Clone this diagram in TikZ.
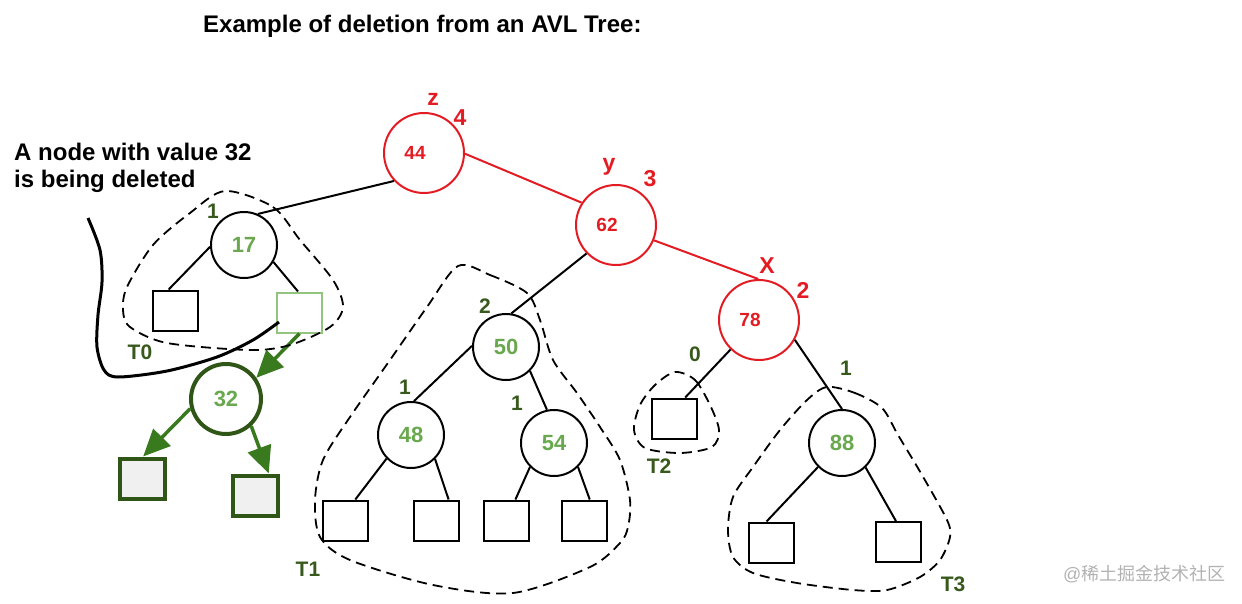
\documentclass[tikz,border=0pt]{standalone}
\usepackage{fontspec}
\setmainfont{Liberation Sans}
\newfontfamily\cjkfont{Noto Sans CJK SC}
\usetikzlibrary{arrows.meta}
\definecolor{avlred}{HTML}{E31B23}
\definecolor{tagreen}{HTML}{38591C}
\definecolor{numgreen}{HTML}{6AA84F}
\definecolor{argreen}{HTML}{3A7A1E}
\definecolor{delgreen}{HTML}{2F5517}
\definecolor{pale}{HTML}{93C47D}
\begin{document}
\begin{tikzpicture}[x=1pt,y=-1pt,
	every node/.style={inner sep=0,font=\bfseries},
	keynode/.style={circle,draw,line width=2pt,minimum size=66pt,text=numgreen,font=\fontsize{22}{22}\bfseries},
	rednode/.style={circle,draw=avlred,line width=2pt,minimum size=80pt,text=avlred,font=\fontsize{19}{19}\bfseries},
	delnode/.style={circle,draw=delgreen,line width=4pt,minimum size=70pt,text=numgreen,font=\fontsize{22}{22}\bfseries},
	leaf/.style={rectangle,draw,line width=2pt,minimum width=45pt,minimum height=40pt},
	delleaf/.style={leaf,draw=delgreen,line width=4pt,fill=black!6},
	redtag/.style={anchor=base,text=avlred,font=\fontsize{23}{23}\bfseries},
	tag/.style={anchor=base,text=tagreen,font=\fontsize{21}{21}\bfseries},
	edge/.style={line width=2pt},
	rededge/.style={edge,avlred},
	delarrow/.style={argreen,line width=3.5pt,-{Triangle[length=27pt,width=24pt]}},
	subtree/.style={line width=1.8pt,dash pattern=on 10pt off 6pt}]
\useasboundingbox (0,0) rectangle (1242,603);
\node[anchor=base west,font=\fontsize{24}{24}\bfseries] (title) at (203,32) {Example of deletion from an AVL Tree:};
\node[anchor=base west,align=left,font=\fontsize{24}{27}\bfseries] (note) at (14,187) {A node with value 32\\is being deleted};
\node[rednode] (n44) at (424,153) {\kern-18pt 44};
\node[rednode] (n62) at (616,225) {\kern-18pt 62};
\node[rednode] (n78) at (759,320) {\kern-18pt 78};
\node[keynode] (n17) at (244,245) {17};
\node[keynode] (n50) at (506,347) {50};
\node[keynode] (n48) at (411,435) {48};
\node[keynode] (n54) at (554,443) {54};
\node[keynode] (n88) at (842,443) {88};
\node[delnode] (n32) at (226,399) {32};
\node[leaf] (a1) at (175.5,310.5) {};
\node[leaf,draw=pale] (a2) at (299.5,312.5) {};
\node[delleaf] (d1) at (142,478.5) {};
\node[delleaf] (d2) at (255.5,495.5) {};
\node[leaf] (b1) at (345.5,520.5) {};
\node[leaf] (b2) at (436,520.5) {};
\node[leaf] (b3) at (506.5,520.5) {};
\node[leaf] (b4) at (584.5,520.5) {};
\node[leaf] (c1) at (674.5,418.5) {};
\node[leaf] (e1) at (771,542.5) {};
\node[leaf] (e2) at (898.5,542) {};
\draw[edge] (n44.223) -- (n17.66);
\draw[rededge] (n44.-1) -- (n62.147);
\draw[rededge] (n62.-22) -- (n78.91);
\draw[edge] (n62.224) -- (n50.81);
\draw[edge] (n50.178) -- (n48.85);
\draw[edge] (n50.-45) -- (n54.102);
\draw[edge] (n48.224) -- (b1.65);
\draw[edge] (n48.-45) -- (b2.59);
\draw[edge] (n54.225) -- (b3.67);
\draw[edge] (n54.-45) -- (b4.76);
\draw[edge] (n78.226) -- (c1.63);
\draw[edge] (n78.-29) -- (n88.90);
\draw[edge] (n88.225) -- (e1.102);
\draw[edge] (n88.-46) -- (e2.97);
\draw[edge] (n17.183) -- (a1.108);
\draw[edge] (n17.-30) -- (a2.94);
\draw[delarrow] (a2.south) -- (n32.35);
\draw[delarrow] (n32.195) -- (d1.87);
\draw[delarrow] (n32.-47) -- (d2.59);
\draw[line width=3pt] plot[smooth] coordinates {(88,218) (100,250) (102,282) (98,315) (97,347) (104,370) (118,377) (167,371) (217,357) (253,340) (279,322)};
\draw[subtree] plot[smooth cycle] coordinates {(225,191) (273,207) (300,240) (333,280) (343,307) (330,327) (290,345) (250,350) (167,343) (130,327) (123,310) (127,287) (153,245) (190,213)};
\draw[subtree] plot[smooth cycle] coordinates {(458,266) (490,275) (527,293) (540,320) (553,360) (577,393) (600,427) (620,460) (630,500) (628,527) (620,543) (590,567) (513,593) (433,585) (350,560) (320,537) (315,500) (323,460) (350,417) (390,360) (427,307)};
\draw[subtree] plot[smooth cycle] coordinates {(675,372) (695,380) (710,405) (719,430) (712,447) (680,453) (645,448) (634,430) (640,405) (655,385)};
\draw[subtree] plot[smooth cycle] coordinates {(827,387) (855,393) (882,408) (898,435) (922,475) (947,520) (950,537) (940,560) (920,577) (887,590) (853,590) (797,583) (753,573) (733,557) (728,530) (733,497) (753,467) (780,430) (807,400)};
\node[redtag] (lz) at (433,105) {z};
\node[redtag] (h44) at (460,125) {4};
\node[redtag] (ly) at (609,170) {y};
\node[redtag] (h62) at (650,186) {3};
\node[redtag] (lx) at (767,273) {X};
\node[redtag] (h78) at (803,298) {2};
\node[tag] (h17) at (213,218) {1};
\node[tag] (h50) at (485,313) {2};
\node[tag] (h48) at (405,394) {1};
\node[tag] (h54) at (517,410) {1};
\node[tag] (h0) at (695,361) {0};
\node[tag] (h88) at (846,375) {1};
\node[tag] (t0) at (140,359) {T0};
\node[tag] (t1) at (308,576) {T1};
\node[tag] (t2) at (659,473) {T2};
\node[tag] (t3) at (953,591) {T3};
\node[anchor=base west,text=black!30,font=\fontsize{18}{18}\selectfont] (mark) at (1063,580) {@\cjkfont 稀土掘金技术社区};
\end{tikzpicture}
\end{document}
